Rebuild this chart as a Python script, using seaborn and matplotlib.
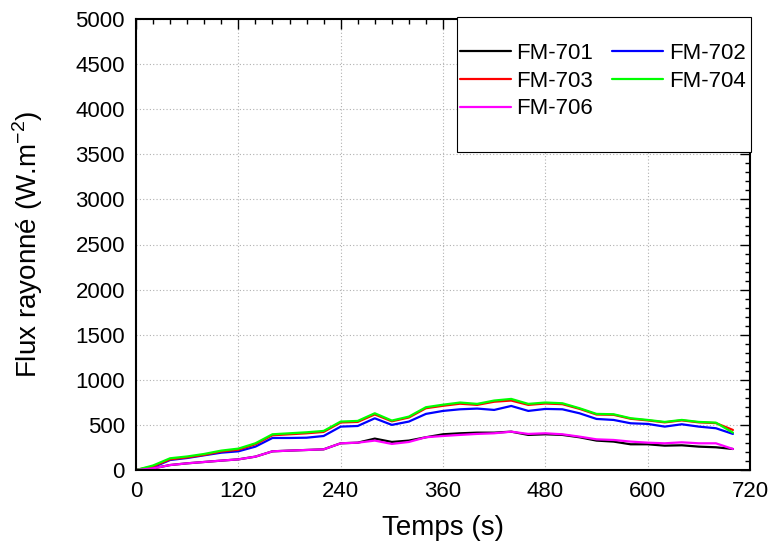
import pandas as pd
import seaborn as sns
import numpy as np
from matplotlib import pyplot as plt
from matplotlib.ticker import MultipleLocator
from matplotlib.lines import Line2D
from matplotlib.patches import Rectangle

# time (s), one reading every 20 s
temps = [0, 20, 40, 60, 80, 100, 120, 140, 160, 180, 200, 220, 240, 260, 280, 300, 320, 340,
         360, 380, 400, 420, 440, 460, 480, 500, 520, 540, 560, 580, 600, 620, 640, 660, 680, 700]

fm701 = [0, 18, 55, 74, 89, 104, 118, 148, 207, 215, 222, 229, 296, 303, 348, 311, 326, 363,
         396, 407, 414, 414, 425, 389, 396, 389, 363, 326, 315, 285, 285, 270, 274, 259, 252, 233]
fm702 = [0, 30, 111, 133, 163, 192, 207, 259, 355, 355, 358, 377, 481, 488, 573, 500, 537, 622,
         655, 673, 681, 666, 710, 655, 677, 673, 629, 566, 555, 518, 511, 481, 507, 481, 463, 400]
fm703 = [0, 40, 118, 140, 168, 205, 225, 285, 385, 396, 407, 422, 527, 533, 616, 540, 582, 685,
         712, 735, 722, 757, 770, 722, 737, 730, 678, 615, 612, 568, 550, 528, 550, 528, 520, 444]
fm704 = [0, 50, 130, 150, 178, 215, 237, 296, 396, 407, 418, 433, 537, 544, 629, 548, 592, 696,
         724, 748, 733, 770, 788, 733, 748, 740, 685, 622, 618, 574, 555, 533, 555, 533, 525, 414]
fm706 = [0, 18, 55, 74, 89, 104, 118, 148, 207, 215, 222, 229, 296, 303, 326, 289, 311, 363,
         377, 389, 400, 407, 425, 400, 407, 396, 370, 340, 333, 315, 303, 296, 307, 296, 296, 233]

capteurs = ["FM-701", "FM-702", "FM-703", "FM-704", "FM-706"]
couleurs = ["#000000", "#0000FF", "#FF0000", "#00FF00", "#FF00FF"]

def plot_flux():
    series = [fm701, fm702, fm703, fm704, fm706]
    df = pd.concat([pd.DataFrame({"t": temps, "flux": s, "capteur": c})
                    for c, s in zip(capteurs, series)], ignore_index=True)

    sns.set_style("white")
    plt.rcParams['font.family'] = ['Liberation Sans', 'DejaVu Sans']
    plt.rcParams['mathtext.fontset'] = 'custom'
    plt.rcParams['mathtext.rm'] = 'Liberation Sans'
    plt.rcParams['text.color'] = 'black'
    plt.rcParams['axes.labelcolor'] = 'black'

    fig = plt.figure(figsize=(7.7, 5.46), dpi=100)
    ax = fig.add_axes([136/770, 1-470/546, 614/770, 451/546])
    sns.lineplot(data=df, x="t", y="flux", hue="capteur", hue_order=capteurs,
                 palette=couleurs, linewidth=1.6, ax=ax, legend=False)

    ax.set_xlim(0, 720)
    ax.set_ylim(0, 5000)
    ax.xaxis.set_major_locator(MultipleLocator(120))
    ax.xaxis.set_minor_locator(MultipleLocator(20))
    ax.yaxis.set_major_locator(MultipleLocator(500))
    ax.yaxis.set_minor_locator(MultipleLocator(100))
    ax.grid(True, which="major", linestyle=(0, (1, 2)), color="#b0b0b0", linewidth=0.8)
    ax.tick_params(which="both", direction="in", top=True, right=True, colors="black",
                   labelcolor="black", labelsize=16)
    ax.tick_params(which="major", length=7, width=1.0, pad=8)
    ax.tick_params(which="minor", length=3.5, width=1.0)
    for sp in ax.spines.values():
        sp.set_color("black")
        sp.set_linewidth(1.5)

    ax.set_xlabel("Temps (s)", fontsize=20, labelpad=9, color="black")
    ax.set_ylabel("Flux rayonné (W.m$^{\\mathregular{-2}}$)", fontsize=20, labelpad=22,
                  color="black")

    # Origin-style legend box, taller than its entries, white inside
    ax.add_patch(Rectangle((0.523, 0.705), 0.479, 0.299, transform=ax.transAxes,
                           facecolor="white", edgecolor="black", linewidth=0.8,
                           clip_on=False, zorder=4))
    # legend filled row by row: 701 702 / 703 704 / 706
    ordre = [0, 2, 4, 1, 3]
    handles = [Line2D([], [], color=couleurs[i], linewidth=1.6) for i in ordre]
    labels = [capteurs[i] for i in ordre]
    leg = ax.legend(handles, labels, ncol=2, loc="center", bbox_to_anchor=(0.76, 0.862),
                    fontsize=16, frameon=False, borderpad=0,
                    handlelength=2.3, handletextpad=0.25, columnspacing=0.85,
                    labelspacing=0.3, borderaxespad=0)
    leg.set_zorder(5)

    plt.savefig("out.png", dpi=100)

if __name__ == "__main__":
    plot_flux()
